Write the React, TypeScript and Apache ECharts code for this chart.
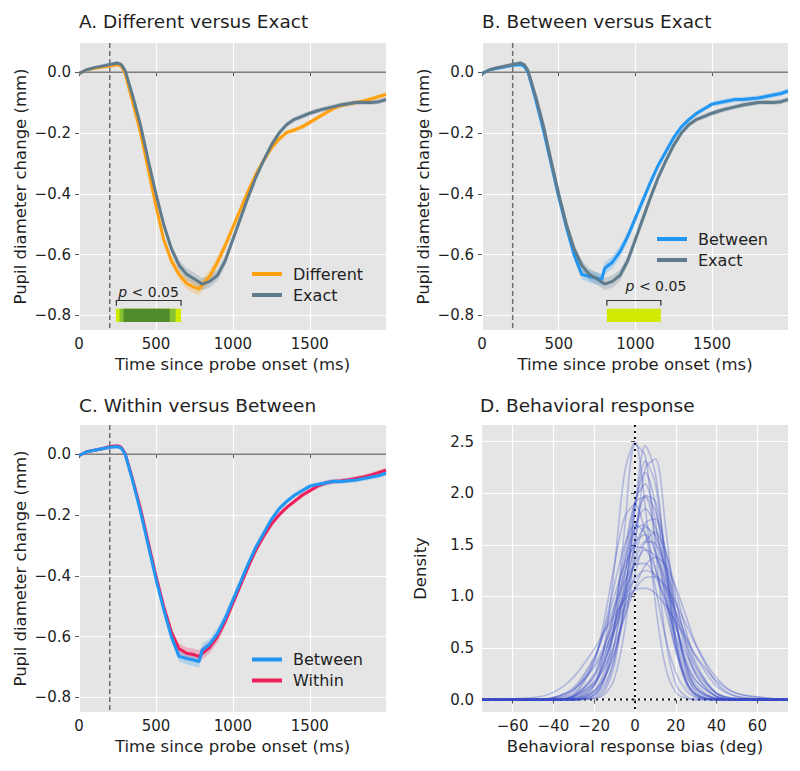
import React, { useEffect, useRef } from 'react';
import * as echarts from 'echarts';

// ---------- Data ----------
const T = [0, 50, 100, 150, 200, 250, 275, 300, 350, 400, 450, 500, 550, 600, 650, 700, 750, 780, 800, 850, 900, 950, 1000, 1050, 1100, 1150, 1200, 1250, 1300, 1350, 1400, 1450, 1500, 1550, 1600, 1650, 1700, 1750, 1800, 1850, 1900, 1950, 1995];

const exact = [-0.005, 0.008, 0.015, 0.02, 0.025, 0.03, 0.025, 0.005, -0.08, -0.175, -0.29, -0.4, -0.5, -0.58, -0.635, -0.665, -0.68, -0.69, -0.697, -0.688, -0.668, -0.62, -0.55, -0.48, -0.41, -0.345, -0.29, -0.24, -0.2, -0.172, -0.155, -0.145, -0.135, -0.127, -0.12, -0.114, -0.108, -0.104, -0.1, -0.099, -0.1, -0.097, -0.09];
const different = [-0.005, 0.008, 0.013, 0.017, 0.02, 0.025, 0.02, -0.005, -0.1, -0.2, -0.32, -0.44, -0.55, -0.62, -0.665, -0.695, -0.708, -0.713, -0.7, -0.67, -0.625, -0.57, -0.51, -0.45, -0.39, -0.335, -0.29, -0.25, -0.22, -0.198, -0.19, -0.18, -0.165, -0.15, -0.135, -0.12, -0.11, -0.105, -0.1, -0.095, -0.088, -0.08, -0.073];
const between = [-0.005, 0.008, 0.013, 0.018, 0.023, 0.025, 0.02, 0.0, -0.09, -0.19, -0.3, -0.41, -0.51, -0.6, -0.665, -0.672, -0.678, -0.682, -0.645, -0.625, -0.59, -0.54, -0.48, -0.42, -0.36, -0.305, -0.26, -0.215, -0.18, -0.155, -0.135, -0.12, -0.105, -0.1, -0.095, -0.09, -0.09, -0.087, -0.085, -0.08, -0.075, -0.07, -0.062];
const within = [-0.005, 0.008, 0.013, 0.018, 0.025, 0.027, 0.022, 0.002, -0.085, -0.18, -0.29, -0.4, -0.5, -0.585, -0.64, -0.655, -0.66, -0.665, -0.655, -0.635, -0.6, -0.55, -0.49, -0.43, -0.37, -0.315, -0.27, -0.23, -0.2, -0.175, -0.155, -0.135, -0.12, -0.105, -0.095, -0.09, -0.088, -0.085, -0.08, -0.075, -0.068, -0.06, -0.053];
const sem = [0.003, 0.004, 0.005, 0.006, 0.006, 0.007, 0.007, 0.008, 0.009, 0.01, 0.011, 0.012, 0.013, 0.015, 0.017, 0.019, 0.02, 0.02, 0.02, 0.02, 0.019, 0.017, 0.015, 0.013, 0.012, 0.011, 0.01, 0.01, 0.009, 0.008, 0.008, 0.008, 0.008, 0.008, 0.008, 0.008, 0.008, 0.008, 0.008, 0.008, 0.008, 0.008, 0.008];

const timeTicks = [0, 500, 1000, 1500];
const pupilTicks = [-0.8, -0.6, -0.4, -0.2, 0];
const biasTicks = [-60, -40, -20, 0, 20, 40, 60];
const densityTicks = [0, 0.5, 1, 1.5, 2, 2.5];

const probeOnset = 200;
const sigARanges = [[240, 663], [263, 628], [289, 589]];
const sigBRanges = [[814, 1166]];
const sigABracket = [243, 663];
const sigBBracket = [814, 1166];

const X = [-75, -50, -40, -30, -20, -15, -10, -5, 0, 5, 10, 15, 20, 25, 30, 40, 50, 75];
const densityCurves = [
  [0, 0, 0, 0, 0.13, 0.51, 1.30, 2.21, 2.50, 1.87, 0.93, 0.31, 0.07, 0.01, 0, 0, 0, 0],
  [0, 0, 0, 0, 0.04, 0.21, 0.73, 1.67, 2.47, 2.36, 1.47, 0.59, 0.15, 0.03, 0, 0, 0, 0],
  [0, 0, 0, 0, 0.01, 0.08, 0.34, 0.96, 1.87, 2.46, 2.19, 1.32, 0.54, 0.15, 0.03, 0, 0, 0],
  [0, 0, 0, 0, 0.01, 0.05, 0.21, 0.68, 1.49, 2.24, 2.33, 1.67, 0.82, 0.28, 0.07, 0, 0, 0],
  [0, 0, 0, 0, 0.02, 0.11, 0.40, 1.01, 1.82, 2.31, 2.09, 1.33, 0.60, 0.19, 0.04, 0, 0, 0],
  [0, 0, 0, 0, 0.05, 0.19, 0.55, 1.19, 1.89, 2.20, 1.89, 1.19, 0.55, 0.19, 0.05, 0, 0, 0],
  [0, 0, 0, 0, 0.09, 0.28, 0.71, 1.34, 1.92, 2.09, 1.72, 1.07, 0.51, 0.18, 0.05, 0, 0, 0],
  [0, 0, 0, 0.01, 0.14, 0.40, 0.86, 1.45, 1.91, 1.96, 1.57, 0.97, 0.47, 0.18, 0.05, 0, 0, 0],
  [0, 0, 0, 0, 0.07, 0.22, 0.55, 1.08, 1.65, 1.97, 1.83, 1.32, 0.74, 0.32, 0.11, 0.01, 0, 0],
  [0, 0, 0, 0.04, 0.37, 0.78, 1.32, 1.77, 1.89, 1.61, 1.09, 0.60, 0.26, 0.09, 0.02, 0, 0, 0],
  [0, 0, 0, 0.01, 0.14, 0.35, 0.73, 1.22, 1.67, 1.85, 1.67, 1.22, 0.73, 0.35, 0.14, 0.01, 0, 0],
  [0, 0, 0, 0, 0.07, 0.20, 0.46, 0.89, 1.37, 1.71, 1.75, 1.45, 0.98, 0.54, 0.24, 0.03, 0, 0],
  [0, 0, 0, 0.03, 0.23, 0.51, 0.91, 1.35, 1.66, 1.69, 1.43, 1.00, 0.58, 0.28, 0.11, 0.01, 0, 0],
  [0, 0, 0, 0.02, 0.16, 0.36, 0.69, 1.10, 1.48, 1.67, 1.59, 1.27, 0.85, 0.48, 0.23, 0.03, 0, 0],
  [0, 0, 0, 0.01, 0.09, 0.22, 0.46, 0.82, 1.22, 1.53, 1.62, 1.43, 1.06, 0.67, 0.35, 0.06, 0, 0],
  [0, 0, 0, 0.04, 0.25, 0.50, 0.85, 1.24, 1.52, 1.60, 1.43, 1.09, 0.71, 0.39, 0.18, 0.03, 0, 0],
  [0, 0, 0, 0.03, 0.18, 0.37, 0.66, 1.01, 1.34, 1.53, 1.51, 1.28, 0.94, 0.59, 0.32, 0.06, 0.01, 0],
  [0, 0, 0.01, 0.09, 0.40, 0.68, 1.01, 1.31, 1.48, 1.46, 1.26, 0.94, 0.62, 0.35, 0.18, 0.03, 0, 0],
  [0, 0, 0, 0.04, 0.22, 0.43, 0.72, 1.04, 1.31, 1.45, 1.39, 1.16, 0.84, 0.54, 0.30, 0.06, 0.01, 0],
  [0, 0, 0, 0.03, 0.16, 0.31, 0.53, 0.81, 1.09, 1.30, 1.38, 1.30, 1.09, 0.81, 0.53, 0.16, 0.03, 0],
  [0, 0, 0.02, 0.12, 0.41, 0.65, 0.91, 1.15, 1.30, 1.32, 1.19, 0.97, 0.70, 0.45, 0.26, 0.06, 0.01, 0],
  [0, 0, 0.02, 0.10, 0.33, 0.53, 0.76, 0.99, 1.17, 1.25, 1.21, 1.07, 0.85, 0.62, 0.41, 0.13, 0.03, 0],
  [0, 0.02, 0.07, 0.22, 0.49, 0.66, 0.82, 0.97, 1.06, 1.08, 1.03, 0.91, 0.76, 0.59, 0.42, 0.18, 0.06, 0],
  [0, 0, 0.01, 0.06, 0.37, 0.70, 1.12, 1.50, 1.69, 1.61, 1.28, 0.86, 0.49, 0.23, 0.09, 0.01, 0, 0],
  [0, 0, 0, 0, 0.04, 0.14, 0.41, 0.91, 1.54, 1.98, 1.92, 1.42, 0.79, 0.34, 0.11, 0, 0, 0],
  [0, 0, 0.02, 0.10, 0.31, 0.48, 0.68, 0.90, 1.07, 1.18, 1.19, 1.10, 0.93, 0.73, 0.52, 0.21, 0.06, 0],
];

// ---------- Styling ----------
const FONT = 'DejaVu Sans';
const TXT = '#1f1f1f';
const C_DIFF = '#ffa00f';
const C_EXACT = '#5f7b8c';
const C_BETW = '#2196f3';
const C_WITH = '#ef1f5a';
const C_DENS = 'rgba(55,75,200,0.3)';
const SIG_COLORS = ['#d2ea00', '#86c232', '#4f8a2b'];

const fmtDec = (v: number) => (v < -1e-9 ? '\u2212' : '') + Math.abs(v).toFixed(1);
const fmtInt = (v: number) => (v < 0 ? '\u2212' : '') + Math.abs(Math.round(v));

const grids = [
  { left: 79, top: 43, width: 307, height: 287 },
  { left: 482, top: 43, width: 306, height: 287 },
  { left: 79, top: 425, width: 307, height: 287 },
  { left: 482, top: 425, width: 306, height: 287 },
];

const baseAxis = (gi: number, ticks: number[], fmt: (v: number) => string, margin: number) => ({
  type: 'value',
  gridIndex: gi,
  axisLine: { show: false },
  axisTick: { show: true, length: 4, lineStyle: { color: '#555', width: 1 }, customValues: ticks },
  axisLabel: { customValues: ticks, formatter: fmt, fontSize: 15, color: TXT, fontFamily: FONT, margin },
  splitLine: { show: true, lineStyle: { color: '#ffffff', width: 1.2 } },
  nameLocation: 'middle',
  nameTextStyle: { fontSize: 16.5, color: TXT, fontFamily: FONT },
});

const timeX = (gi: number) => ({
  ...baseAxis(gi, timeTicks, fmtInt, 6),
  min: 0, max: 1995,
  name: 'Time since probe onset (ms)', nameGap: 26,
});
const pupilY = (gi: number) => ({
  ...baseAxis(gi, pupilTicks, fmtDec, 8),
  min: -0.848, max: 0.096,
  name: 'Pupil diameter change (mm)', nameGap: 50,
});

const meanLine = (name: string, vals: number[], color: string, gi: number) => ({
  type: 'line', name, xAxisIndex: gi, yAxisIndex: gi,
  data: T.map((t, i) => [t, vals[i]]),
  showSymbol: false, symbol: 'none', color, z: 4, silent: true,
  lineStyle: { width: 3, color },
  itemStyle: { color },
});

const band = (name: string, vals: number[], color: string, gi: number) => ({
  type: 'custom', name: name + ' band', xAxisIndex: gi, yAxisIndex: gi, z: 3, silent: true,
  data: [[T[0], vals[0]]],
  renderItem: (_p: any, api: any) => {
    const up = T.map((t, i) => api.coord([t, vals[i] + sem[i]]));
    const lo = T.map((t, i) => api.coord([t, vals[i] - sem[i]])).reverse();
    return { type: 'polygon', shape: { points: up.concat(lo) }, style: { fill: color, opacity: 0.25 } };
  },
});

const refLines = (gi: number, xv: number, yv: number, dashed: boolean) => ({
  type: 'custom', name: 'ref' + gi, xAxisIndex: gi, yAxisIndex: gi, z: 2, silent: true,
  data: [[xv, yv]],
  renderItem: (params: any, api: any) => {
    const cs = params.coordSys;
    const p = api.coord([api.value(0), api.value(1)]);
    const children: any[] = [];
    if (dashed) {
      children.push({ type: 'line', shape: { x1: cs.x, y1: p[1], x2: cs.x + cs.width, y2: p[1] }, style: { stroke: '#7f7f7f', lineWidth: 1.5 } });
      children.push({ type: 'line', shape: { x1: p[0], y1: cs.y, x2: p[0], y2: cs.y + cs.height }, style: { stroke: '#6f6f6f', lineWidth: 1.5, lineDash: [5, 3] } });
    } else {
      children.push({ type: 'line', shape: { x1: cs.x, y1: p[1], x2: cs.x + cs.width, y2: p[1] }, style: { stroke: '#111', lineWidth: 2, lineDash: [2, 4] } });
      children.push({ type: 'line', shape: { x1: p[0], y1: cs.y, x2: p[0], y2: cs.y + cs.height }, style: { stroke: '#111', lineWidth: 2, lineDash: [2, 4] } });
    }
    return { type: 'group', children };
  },
});

const sigBar = (gi: number, ranges: number[][], colorOffset: number) => ({
  type: 'custom', name: 'sig' + gi, xAxisIndex: gi, yAxisIndex: gi, z: 5, silent: true,
  data: ranges.map((r, i) => [r[0], r[1], i]),
  renderItem: (_p: any, api: any) => {
    const a = api.coord([api.value(0), -0.778]);
    const b = api.coord([api.value(1), -0.822]);
    return { type: 'rect', shape: { x: a[0], y: a[1], width: b[0] - a[0], height: b[1] - a[1] }, style: { fill: SIG_COLORS[api.value(2) + colorOffset] } };
  },
});

const sigBracket = (gi: number, br: number[], labelX: number, labelY: number) => ({
  type: 'custom', name: 'bracket' + gi, xAxisIndex: gi, yAxisIndex: gi, z: 5, silent: true,
  data: [[br[0], br[1]]],
  renderItem: (_p: any, api: any) => {
    const l = api.coord([api.value(0), -0.751]);
    const r = api.coord([api.value(1), -0.751]);
    const lb = api.coord([api.value(0), -0.768]);
    const rb = api.coord([api.value(1), -0.768]);
    const tp = api.coord([labelX, labelY]);
    return {
      type: 'group',
      children: [
        { type: 'polyline', shape: { points: [lb, l, r, rb] }, style: { stroke: '#333', lineWidth: 1.2, fill: 'none' } },
        {
          type: 'text', x: tp[0], y: tp[1],
          style: {
            text: '{i|p} < 0.05', align: 'center', verticalAlign: 'middle',
            fontSize: 14, fontFamily: FONT, fill: TXT,
            rich: { i: { fontStyle: 'italic', fontSize: 14, fontFamily: FONT, fill: TXT } },
          },
        },
      ],
    };
  },
});

const legendBase = {
  orient: 'vertical', itemWidth: 30, itemHeight: 4, itemGap: 0, icon: 'rect', padding: 0,
  selectedMode: false,
  textStyle: { fontSize: 16, color: TXT, fontFamily: FONT, lineHeight: 21, padding: [0, 0, 0, 6] },
};

const titleBase = (text: string, left: number, top: number) => ({
  text, left, top, padding: 0,
  textStyle: { fontSize: 18.5, fontWeight: 'normal', color: TXT, fontFamily: FONT, lineHeight: 22 },
});

export default function App() {
  const ref = useRef<HTMLDivElement>(null);
  useEffect(() => {
    document.body.style.margin = '0';
    if (!ref.current) return;
    const chart = echarts.init(ref.current, null, { renderer: 'svg', width: 800, height: 771 });
    const option: any = {
      animation: false,
      backgroundColor: '#ffffff',
      textStyle: { fontFamily: FONT },
      title: [
        titleBase('A. Different versus Exact', 79, 10),
        titleBase('B. Between versus Exact', 482, 10),
        titleBase('C. Within versus Between', 79, 394),
        titleBase('D. Behavioral response', 480, 394),
      ],
      legend: [
        { ...legendBase, data: ['Different', 'Exact'], left: 252, top: 263.5 },
        { ...legendBase, data: ['Between', 'Exact'], left: 657, top: 228.5 },
        { ...legendBase, data: ['Between', 'Within'], left: 252, top: 649 },
      ],
      grid: grids.map((g) => ({ ...g, show: true, backgroundColor: '#e5e5e5', borderWidth: 0, containLabel: false })),
      xAxis: [
        timeX(0), timeX(1), timeX(2),
        { ...baseAxis(3, biasTicks, fmtInt, 6), min: -75, max: 75, name: 'Behavioral response bias (deg)', nameGap: 26 },
      ],
      yAxis: [
        pupilY(0), pupilY(1), pupilY(2),
        { ...baseAxis(3, densityTicks, fmtDec, 8), min: -0.12, max: 2.66, name: 'Density', nameGap: 53 },
      ],
      series: [
        refLines(0, probeOnset, 0, true),
        refLines(1, probeOnset, 0, true),
        refLines(2, probeOnset, 0, true),
        refLines(3, 0, 0, false),
        // A
        band('Different', different, C_DIFF, 0),
        band('Exact', exact, C_EXACT, 0),
        meanLine('Different', different, C_DIFF, 0),
        meanLine('Exact', exact, C_EXACT, 0),
        sigBar(0, sigARanges, 0),
        sigBracket(0, sigABracket, 452, -0.722),
        // B
        band('Between', between, C_BETW, 1),
        band('Exact', exact, C_EXACT, 1),
        meanLine('Between', between, C_BETW, 1),
        meanLine('Exact', exact, C_EXACT, 1),
        sigBar(1, sigBRanges, 0),
        sigBracket(1, sigBBracket, 1134, -0.704),
        // C
        band('Within', within, C_WITH, 2),
        band('Between', between, C_BETW, 2),
        meanLine('Within', within, C_WITH, 2),
        meanLine('Between', between, C_BETW, 2),
        // D
        ...densityCurves.map((c, k) => ({
          type: 'line', name: 'subject ' + (k + 1), xAxisIndex: 3, yAxisIndex: 3,
          data: X.map((x, i) => [x, c[i]]),
          showSymbol: false, symbol: 'none', smooth: 0.3, silent: true, z: 4,
          lineStyle: { width: 1.6, color: C_DENS },
          itemStyle: { color: C_DENS },
        })),
      ],
    };
    chart.setOption(option);
    return () => chart.dispose();
  }, []);
  return <div ref={ref} style={{ width: 800, height: 771 }} />;
}
